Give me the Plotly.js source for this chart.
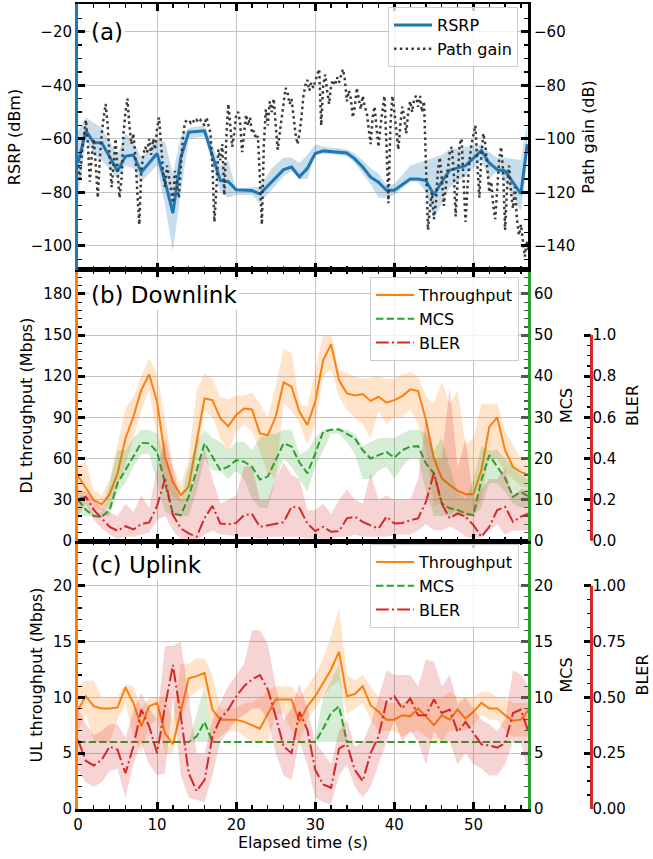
<!DOCTYPE html>
<html><head><meta charset="utf-8">
<script src="https://cdn.plot.ly/plotly-3.0.1.min.js"></script>
<style>html,body{margin:0;padding:0;background:#fff}#chart{width:653px;height:859px}</style>
</head><body><div id="chart"></div>
<script>
// ---------- Panel (a) ----------
const rsrpTime = [0,1,2,3,5,6,7,8,10,11,12,13,14,16,18,19,20,22,23,24.5,26,27,28,29,30,31,33,34,35,36,37,38,39,40,42,43,44,45,46,47,49,51,52,53,54,56,56.8];
const rsrp = [-69,-57,-61.5,-61.5,-72,-66.5,-66,-72.5,-65.5,-76,-87.7,-67,-57.5,-57,-75.5,-76,-79,-79.3,-80.6,-76,-71.5,-70.5,-74.2,-71,-65.5,-64.5,-65,-65.3,-67.5,-70.5,-74.3,-76.2,-79.2,-79.2,-75,-75,-75.6,-81,-76,-71.7,-70,-64.4,-69,-71.5,-72,-80.5,-62];
const rsrpUpper = [-57,-52,-54,-56,-66,-58,-61,-67,-60,-61,-73,-59,-56,-55,-70,-68,-79,-78,-78,-71,-67,-67,-69,-66,-62,-63,-63.5,-64,-65.5,-68,-71,-73,-77,-77,-70,-69,-68,-67,-66,-64,-63,-62,-65,-67,-67,-68,-54];
const rsrpLower = [-82,-60,-66,-68,-75,-70,-71,-76,-70,-85,-102,-80,-60,-59,-80,-82,-81,-81,-84,-79,-74,-72,-75,-75,-66,-65.5,-66,-66.5,-69,-73,-77,-82,-82,-81,-76,-76,-80,-90,-84,-78,-74,-68,-75,-72,-76,-87,-68];
const pathGainStep = 0.25;
const pathGain = [
-110,-115,-105,-98,-93,-102,-116,-106,-100,-110,-122,-108,-98,-92,-87,-95,
-105,-118,-110,-100,-112,-122,-115,-98,-90,-85,-95,-102,-98,-106,-120,-132,
-112,-106,-103,-105,-100,-106,-100,-104,-96,-92,-102,-112,-118,-110,-114,-120,
-124,-112,-118,-122,-110,-100,-94,-93,-93,-94,-93,-94,-93,-94,-93,-94,
-95,-92,-95,-98,-110,-131,-118,-104,-108,-102,-121,-100,-87,-95,-103,-98,
-91,-90,-94,-105,-98,-91,-95,-92,-98,-97,-100,-99,-115,-132,-102,-89,
-95,-86,-90,-85,-95,-104,-98,-92,-85,-81,-83,-87,-85,-92,-98,-102,
-98,-92,-84,-80,-78,-82,-79,-81,-78,-76,-74,-95,-80,-76,-82,-87,
-80,-78,-80,-77,-79,-76,-74,-78,-86,-82,-85,-92,-88,-81,-85,-89,
-84,-88,-90,-96,-102,-92,-88,-96,-103,-95,-90,-84,-102,-124,-95,-84,
-90,-98,-104,-95,-88,-92,-98,-90,-86,-90,-85,-84,-88,-84,-90,-86,
-110,-134,-126,-120,-130,-124,-112,-107,-115,-125,-118,-110,-105,-103,-112,-129,
-116,-102,-100,-115,-131,-118,-108,-102,-98,-95,-110,-122,-106,-98,-102,-112,
-120,-116,-125,-130,-118,-108,-103,-112,-134,-118,-110,-120,-126,-118,-130,-136,
-132,-139,-144,-138,-142];

// ---------- Panels (b) and (c): one value per second ----------
const timeS = [0,1,2,3,4,5,6,7,8,9,10,11,12,13,14,15,16,17,18,19,20,21,22,23,24,25,26,27,28,29,30,31,32,33,34,35,36,37,38,39,40,41,42,43,44,45,46,47,48,49,50,51,52,53,54,55,56,57];

const dlTput = [47.2,38,29.7,26.5,34,49,74.6,90.4,110,121.3,101.4,61.3,43,33.3,39.4,72,103.8,102.6,89.2,83.6,91.7,96.5,95.8,78.3,77,90.4,115.5,112.3,94,84.4,101.4,131.8,143.4,117,107.5,106,107,102,105,100.7,102.6,105.5,110.4,109.2,88,60,45.5,40.6,36.5,34,34,51.5,83,90,66,54,50,48];
const dlTputUpper = [55,58,37,33,45,70,96,105,120,133,122,90,55,40,60,110,122,118,105,103,106,106,108,100,90,113,140,137,100,98,125,150,150,125,122,120,118,119,120,118,118,121,123,120,105,100,116,100,110,70,75,100,100,100,80,70,60,58];
const dlTputLower = [35,30,22,22,25,40,55,75,95,110,75,40,32,28,30,60,95,90,75,65,80,85,80,65,50,45,100,95,85,70,85,120,125,105,95,90,85,75,95,85,90,90,96,85,65,25,28,20,22,15,20,30,60,60,50,45,40,38];
const dlMcs = [10,7.5,6,5.8,7.5,14,17.2,20.4,23.8,23.7,21.6,14,6.6,6.2,10.7,17.2,23.7,20.4,17.2,18,19.6,19.2,18,14.9,15.6,19.6,23.7,22.9,19,16.4,21.2,26.5,27,27.1,26.1,24.9,22,20,20.8,21.6,20.2,22,22.9,23,18.8,16.4,9.1,7.9,7.5,6.6,6.2,14.7,20.8,18,15.2,10.7,11.9,10.7];
const dlMcsUpper = [12,10,6.5,7,14,22,22,25,27,27,26,20,14,10,18,24,27,25,24,22,24,24,22,25,26,26,27,27,21,22,25,27,27,27,27,26,23,24,25,25,25,26,27,27,26,22,25,18,12,10,15,23,22,22,20,18,16,15];
const dlMcsLower = [6,6,6,6,6,12,14,18,21,21,14,7,6,6,6,12,20,17,17,15,17,15,10,8,8,15,20,18,15,12,18,22,26,26,24,21,15,15,17,18,15,18,20,20,12,6,6,6,6,6,6,8,14,14,12,9,8,8];
const dlBler = [0.2,0.214,0.15,0.11,0.068,0.049,0.071,0.055,0.081,0.089,0.17,0.3,0.125,0.06,0.036,0.02,0.11,0.17,0.084,0.08,0.087,0.125,0.13,0.068,0.076,0.084,0.09,0.165,0.16,0.084,0.047,0.068,0.044,0.047,0.109,0.117,0.092,0.075,0.06,0.117,0.084,0.087,0.1,0.109,0.19,0.33,0.18,0.109,0.133,0.117,0.076,0.019,0.068,0.149,0.165,0.092,0.117,0.133];
const dlBlerUpper = [0.25,0.24,0.2,0.16,0.14,0.12,0.18,0.14,0.22,0.16,0.35,0.5,0.35,0.2,0.2,0.35,0.45,0.3,0.18,0.2,0.22,0.36,0.36,0.2,0.2,0.3,0.38,0.32,0.3,0.15,0.15,0.18,0.13,0.2,0.25,0.2,0.18,0.33,0.2,0.22,0.2,0.2,0.2,0.3,0.6,0.4,0.4,0.75,0.35,0.5,0.2,0.25,0.3,0.3,0.35,0.22,0.25,0.25];
const dlBlerLower = [0.12,0.18,0.1,0.06,0.03,0.01,0.02,0.02,0.03,0.04,0.1,0.12,0.05,0.01,0,0,0.03,0.05,0.03,0.03,0.02,0.02,0.02,0.01,0.02,0.02,0.02,0.02,0.02,0.01,0.01,0.01,0.01,0.02,0.02,0.03,0.02,0.02,0.02,0.02,0.03,0.03,0.03,0.05,0.08,0.05,0.05,0.07,0.05,0.02,0.01,0.02,0.05,0.08,0.03,0.05,0.05,0.05];

const ulTput = [8.9,10.1,9.2,9.0,9.0,9.1,10.9,9.5,7.4,9.2,9.5,6.8,5.8,8.8,11.7,11.9,12.2,8.9,8,8,8,7.8,7.5,7.2,8.5,9.8,9.8,9.8,7.8,9.2,10.1,11.3,12.5,14.1,10.1,10.3,11,9.3,8.7,8,8,8.4,8.3,9,8.3,7.5,8.4,8,8.9,8.1,8.7,9.5,9,9,8.4,7.9,8,8.9];
const ulTputUpper = [11,11.5,11.5,10,10,10,11.2,11,9,10,10,10,8,13,13,13.5,13.5,12,9,9,9,9.5,9.5,10,10.5,11,11,11,10,11,12,13.5,15.5,18,12,11.5,12,11,10,9.5,9.5,9.5,9.8,10,10,10,10,10.5,10,10,10,10.5,10.5,10,10,9.5,9.5,9.5];
const ulTputLower = [7,8.5,6,6,6,8,9.5,6.5,5,7.5,8,5,5,8,10,10.5,11,6,6.5,7,7,6.5,6,6,6,8.5,8.5,7,6,8,9,10,11,11.5,8.5,9,9.5,8,7,7,7,6.5,6.8,7,6.5,6,6,7,7,7,7.5,8.5,8,8,7,6.5,6.5,6.5];
const ulMcs = [6,6,6,6,6,6,6,6,6,6,6,6,6,6,6,6.5,7.8,6,6,6,6,6,6,6,6,6,6,6,6,6,6,7.2,8.6,9.2,6,6,6,6,6,6,6,6,6,6,6,6,6,6,6,6,6,6,6,6,6,6,6,6];
const ulMcsUpper = [6,6,6,6,6,6,6,6,6,6,6,6,6,6,6,8.5,11,6.2,6,6,6,6,6,6,6,6,6,6,6,6,6.2,10,11.5,13,6.2,6,6,6,6,6,6,6,6,6,6,6,6,6,6,6,6,6,6,6,6,6,6,6];
const ulMcsLower = [6,6,6,6,6,6,6,6,6,6,6,6,6,6,6,6,6,6,6,6,6,6,6,6,6,6,6,6,6,6,6,6,6,6,6,6,6,6,6,6,6,6,6,6,6,6,6,6,6,6,6,6,6,6,6,6,6,6];
const ulBler = [0.31,0.215,0.195,0.22,0.28,0.265,0.16,0.28,0.445,0.37,0.25,0.46,0.645,0.415,0.16,0.08,0.13,0.325,0.405,0.445,0.505,0.55,0.58,0.6,0.535,0.415,0.28,0.25,0.435,0.355,0.175,0.11,0.095,0.27,0.29,0.175,0.125,0.25,0.325,0.48,0.505,0.45,0.495,0.42,0.42,0.49,0.43,0.445,0.345,0.39,0.34,0.29,0.285,0.275,0.295,0.43,0.445,0.34];
const ulBlerUpper = [0.45,0.38,0.33,0.35,0.38,0.38,0.32,0.44,0.52,0.45,0.4,0.73,0.73,0.75,0.5,0.25,0.25,0.4,0.48,0.55,0.6,0.65,0.8,0.8,0.74,0.55,0.4,0.45,0.56,0.45,0.3,0.25,0.2,0.35,0.4,0.28,0.3,0.38,0.5,0.62,0.6,0.6,0.6,0.55,0.67,0.66,0.55,0.6,0.47,0.5,0.45,0.4,0.38,0.35,0.4,0.62,0.6,0.55];
const ulBlerLower = [0.17,0.12,0.1,0.12,0.17,0.18,0.05,0.2,0.3,0.2,0.15,0.16,0.5,0.15,0.05,0.04,0.03,0.15,0.3,0.35,0.4,0.42,0.45,0.45,0.4,0.25,0.15,0.13,0.3,0.2,0.05,0.03,0.02,0.15,0.2,0.1,0.05,0.1,0.2,0.3,0.4,0.3,0.35,0.3,0.2,0.35,0.3,0.3,0.2,0.25,0.2,0.18,0.15,0.15,0.2,0.3,0.3,0.15];

const blerTicksDL = [0, 0.2, 0.4, 0.6, 0.8, 1.0];
const blerTicksUL = [0, 0.25, 0.5, 0.75, 1.0];

// ---------- styling ----------
const F = 'DejaVu Sans, Verdana, sans-serif';
const GRID = '#c4c4c4';
const BLUE = '#1f77b4', ORANGE = '#ff7f0e', GREEN = '#2ca02c', RED = '#d62728';
const DX = 0.7965;          // right edge of plot area (paper)
const BLERPOS = 0.9088;     // offset BLER spine (paper)
const pathGainTime = pathGain.map((_, i) => i * pathGainStep);

function band(t, up, lo, xa, ya, color) {
  return {x: t.concat(t.slice().reverse()), y: up.concat(lo.slice().reverse()),
    xaxis: xa, yaxis: ya, type: 'scatter', mode: 'lines', fill: 'toself',
    fillcolor: color, line: {width: 0}, hoverinfo: 'skip', showlegend: false};
}
function line(t, v, xa, ya, name, color, width, dash, legend) {
  return {x: t, y: v, xaxis: xa, yaxis: ya, type: 'scatter', mode: 'lines', name: name,
    line: {color: color, width: width, dash: dash}, legend: legend};
}
const DASH = '7.4px,3.2px', DASHDOT = '12.8px,3.2px,2px,3.2px', DOT = '2.5px,3.3px';

const data = [
  band(rsrpTime, rsrpUpper, rsrpLower, 'x3', 'y7', 'rgba(31,119,180,0.25)'),
  line(rsrpTime, rsrp, 'x3', 'y7', 'RSRP', BLUE, 3, 'solid', 'legend'),
  line(pathGainTime, pathGain, 'x3', 'y8', 'Path gain', '#3a3a3a', 2.5, DOT, 'legend'),

  band(timeS, dlTputUpper, dlTputLower, 'x2', 'y4', 'rgba(255,127,14,0.22)'),
  line(timeS, dlTput, 'x2', 'y4', 'Throughput', ORANGE, 2, 'solid', 'legend2'),
  band(timeS, dlMcsUpper, dlMcsLower, 'x2', 'y5', 'rgba(44,160,44,0.2)'),
  line(timeS, dlMcs, 'x2', 'y5', 'MCS', GREEN, 2, DASH, 'legend2'),
  band(timeS, dlBlerUpper, dlBlerLower, 'x2', 'y6', 'rgba(214,39,40,0.2)'),
  line(timeS, dlBler, 'x2', 'y6', 'BLER', RED, 2, DASHDOT, 'legend2'),

  band(timeS, ulTputUpper, ulTputLower, 'x', 'y', 'rgba(255,127,14,0.22)'),
  line(timeS, ulTput, 'x', 'y', 'Throughput', ORANGE, 2, 'solid', 'legend3'),
  band(timeS, ulMcsUpper, ulMcsLower, 'x', 'y2', 'rgba(44,160,44,0.2)'),
  line(timeS, ulMcs, 'x', 'y2', 'MCS', GREEN, 2, DASH, 'legend3'),
  band(timeS, ulBlerUpper, ulBlerLower, 'x', 'y3', 'rgba(214,39,40,0.2)'),
  line(timeS, ulBler, 'x', 'y3', 'BLER', RED, 2, DASHDOT, 'legend3')
];

const tickfont = {family: F, size: 15, color: '#000'};
const titlefont = {family: F, size: 16, color: '#000'};
function minorTicks(step, dt) { return {dtick: dt, ticks: 'inside', ticklen: 4, tickwidth: 1.3, tickcolor: step}; }
function xax(anchor, labels) {
  return {domain: [0, DX], range: [0, 56.9], anchor: anchor, tick0: 0, dtick: 10,
    showgrid: true, gridcolor: GRID, gridwidth: 1, zeroline: false,
    showline: true, linecolor: '#000', linewidth: 2.5, mirror: 'ticks',
    ticks: 'inside', ticklen: 7, tickwidth: 3, tickcolor: '#000',
    minor: minorTicks('#000', 2), showticklabels: labels, tickfont: tickfont};
}
function leftY(domain, range, dtick, mdt, color, title, anchor) {
  return {domain: domain, range: range, anchor: anchor, side: 'left', tick0: 0, dtick: dtick,
    showgrid: true, gridcolor: GRID, gridwidth: 1, zeroline: false,
    showline: true, linecolor: color, linewidth: 3,
    ticks: 'inside', ticklen: 7, tickwidth: 3, tickcolor: '#000',
    minor: minorTicks('#000', mdt), tickfont: tickfont,
    title: {text: title, font: titlefont, standoff: 7}};
}
function rightY(over, anchor, range, dtick, mdt, color, tcol, title) {
  return {overlaying: over, anchor: anchor, side: 'right', range: range, tick0: 0, dtick: dtick,
    showgrid: false, zeroline: false, showline: true, linecolor: color, linewidth: 3,
    ticks: 'inside', ticklen: 7, tickwidth: 3, tickcolor: tcol,
    minor: minorTicks(tcol, mdt), tickfont: tickfont,
    title: {text: title, font: titlefont, standoff: 9}};
}
function blerY(over, range, tv, fmt, mstep) {
  const mv = [];
  for (let v = 0; v <= 1.0001; v += mstep) mv.push(+v.toFixed(4));
  return {overlaying: over, anchor: 'free', position: BLERPOS, side: 'right', range: range,
    tickmode: 'array', tickvals: tv, tickformat: fmt,
    showgrid: false, zeroline: false, showline: false,
    ticks: 'inside', ticklen: 7, tickwidth: 3, tickcolor: '#000',
    minor: {tickmode: 'array', tickvals: mv, ticks: 'inside', ticklen: 4, tickwidth: 1.3, tickcolor: '#000'},
    tickfont: tickfont, title: {text: 'BLER', font: titlefont, standoff: 11}};
}

const DC = [0, 0.3329], DB = [0.3329, 0.6696], DA = [0.6696, 1];
const xaxis = xax('y', true);
xaxis.title = {text: 'Elapsed time (s)', font: titlefont, standoff: 4};
const xaxis2 = xax('y4', false); xaxis2.matches = 'x';
const xaxis3 = xax('y7', false); xaxis3.matches = 'x';

const legendBase = {xanchor: 'left', yanchor: 'top', bgcolor: 'rgba(255,255,255,0.8)',
  bordercolor: '#cccccc', borderwidth: 1, itemwidth: 38, font: {family: F, size: 16, color: '#000'}};

const layout = {
  width: 653, height: 859,
  margin: {l: 78, r: 10, t: 4, b: 50},
  paper_bgcolor: '#fff', plot_bgcolor: '#fff',
  font: {family: F, color: '#000'},
  xaxis: xaxis, xaxis2: xaxis2, xaxis3: xaxis3,
  yaxis: leftY(DC, [0, 24], 5, 1, ORANGE, 'UL throughput (Mbps)', 'x'),
  yaxis2: rightY('y', 'x', [0, 24], 5, 1, GREEN, '#555', 'MCS'),
  yaxis3: blerY('y', [0, 1.2], blerTicksUL, '.2f', 0.0625),
  yaxis4: leftY(DB, [-0.2, 197.5], 30, 6, ORANGE, 'DL throughput (Mbps)', 'x2'),
  yaxis5: rightY('y4', 'x2', [-0.067, 65.83], 10, 2, GREEN, '#555', 'MCS'),
  yaxis6: blerY('y4', [-0.001, 1.316], blerTicksDL, '.1f', 0.05),
  yaxis7: leftY(DA, [-108.96, -9.66], 20, 5, BLUE, 'RSRP (dBm)', 'x3'),
  yaxis8: rightY('y7', 'x3', [-148.96, -49.66], 20, 5, '#000', '#000', 'Path gain (dB)'),
  legend: Object.assign({x: 0.5487, y: 0.9962}, legendBase),
  legend2: Object.assign({x: 0.5168, y: 0.6608}, legendBase),
  legend3: Object.assign({x: 0.5168, y: 0.3292}, legendBase),
  shapes: [
    {type: 'line', xref: 'paper', yref: 'y6', x0: BLERPOS, x1: BLERPOS, y0: 0, y1: 1, line: {color: RED, width: 3}, layer: 'above'},
    {type: 'line', xref: 'paper', yref: 'y3', x0: BLERPOS, x1: BLERPOS, y0: 0, y1: 1, line: {color: RED, width: 3}, layer: 'above'}
  ],
  annotations: [
    {xref: 'paper', yref: 'paper', x: 0.0195, y: 0.9656, xanchor: 'left', yanchor: 'middle', text: '(a)', showarrow: false, bgcolor: '#fff', borderpad: 1, font: {family: F, size: 23, color: '#000'}},
    {xref: 'paper', yref: 'paper', x: 0.0195, y: 0.6385, xanchor: 'left', yanchor: 'middle', text: '(b) Downlink', showarrow: false, bgcolor: '#fff', borderpad: 1, font: {family: F, size: 23, color: '#000'}},
    {xref: 'paper', yref: 'paper', x: 0.0195, y: 0.3031, xanchor: 'left', yanchor: 'middle', text: '(c) Uplink', showarrow: false, bgcolor: '#fff', borderpad: 1, font: {family: F, size: 23, color: '#000'}}
  ],
  showlegend: true
};

Plotly.newPlot('chart', data, layout, {displayModeBar: false, staticPlot: true});
</script>
</body></html>
